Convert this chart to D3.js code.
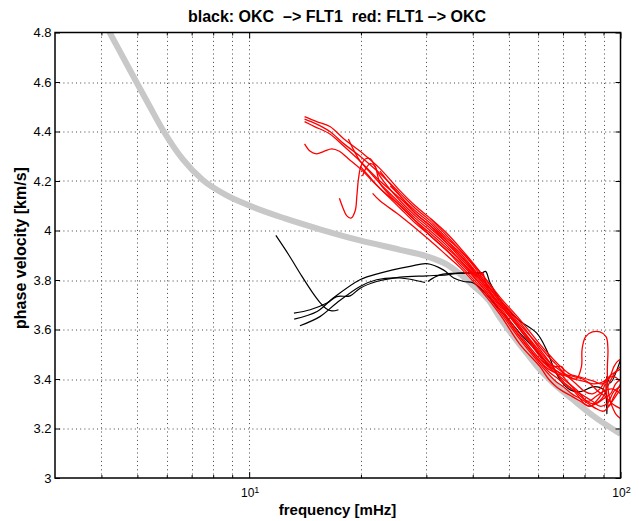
<!DOCTYPE html>
<html>
<head>
<meta charset="utf-8">
<script src="https://cdn.jsdelivr.net/npm/d3@7"></script>
<style>
  body { margin: 0; background: #fff; }
  text { font-family: "Liberation Sans", Arial, Helvetica, sans-serif; }
</style>
</head>
<body>
<svg id="chart" width="639" height="521"></svg>
<script>
// reference dispersion curve (grey), frequency [mHz] / phase velocity [km/s]
const refFreq = [4.0, 4.21, 4.57, 4.99, 5.40, 5.89, 6.63, 7.50, 8.65, 10.0, 12.48, 15.51, 19.88, 25.48, 30.07, 34.11, 36.97, 40.16,
                 44.27, 47.39, 51.38, 56.04, 60.74, 65.88, 74.58, 84.43, 100];
const refVel  = [4.862, 4.800, 4.701, 4.595, 4.501, 4.400, 4.287, 4.204, 4.144, 4.101, 4.049, 4.005, 3.960, 3.922, 3.896, 3.862, 3.825, 3.777,
                 3.716, 3.647, 3.574, 3.502, 3.437, 3.384, 3.316, 3.251, 3.178];

// black: OKC -> FLT1  ([freq, vel] pairs)
const blackTraces = [
  [[11.8,3.98],[12.8,3.90],[13.8,3.82],[14.8,3.75],[15.5,3.71],[16.1,3.685],[16.7,3.675],[17.4,3.68]],
  [[13.2,3.666],[14.6,3.68],[16.2,3.707],[17.2,3.733],[18.7,3.736],[19.9,3.767],[22.05,3.794],[25.5,3.812],[30.1,3.817],
   [34.05,3.821],[37,3.828],[40.2,3.828],[42,3.825],[43.3,3.835],[44.5,3.79],[47.4,3.72],[53,3.64],[59.5,3.585],[63.2,3.518],
   [65.9,3.45],[68.8,3.396],[73.2,3.356],[77.9,3.349],[84.7,3.369],[90.2,3.356],[91.7,3.33],[91.9,3.26],[91.9,3.41],[93.8,3.384],[100,3.477]],
  [[13.22,3.642],[15.24,3.673],[16.84,3.727],[19.88,3.801],[22.51,3.828],[27.12,3.855],[30.07,3.866],[33.33,3.841],[35.55,3.808],
   [37.8,3.794],[40.16,3.788],[43,3.75],[46,3.70],[50,3.64],[54,3.58],[58,3.53],[62,3.48],[65,3.44]],
  [[13.70,3.615],[15.51,3.652],[17.20,3.707],[19.88,3.774],[22.05,3.801],[25.48,3.808],[29.76,3.790]],
  [[30.3,3.794],[32.66,3.821],[38.5,3.828],[42.6,3.830]]
];

// red: FLT1 -> OKC
const redTraces = [
  [[14.1,4.46],[15.2,4.44],[16.5,4.42],[18,4.37],[19.9,4.32],[22.5,4.25],[25.5,4.16],[28,4.10],[30.7,4.05],[34,3.99],[37,3.93],
   [42,3.83],[47.4,3.72],[53.6,3.62],[60.7,3.53],[64,3.49],[67,3.46],[71,3.42],[75,3.40],[80,3.39],[85,3.38],[90,3.39],[95,3.42],[100,3.44]],
  [[14.1,4.45],[15.2,4.43],[16.5,4.40],[18,4.35],[19.9,4.30],[22.5,4.23],[25.5,4.15],[28,4.09],[30.7,4.04],[34,3.97],[37,3.92],
   [42,3.82],[47.4,3.71],[53.6,3.61],[60.7,3.51],[64,3.47],[68,3.44],[72,3.41],[76,3.38],[80,3.35],[84,3.34],[88,3.36],[92,3.40],[96,3.41],[100,3.39]],
  [[14.1,4.44],[15,4.42],[16.5,4.39],[18,4.34],[19.9,4.28],[22.5,4.20],[25.5,4.13],[28,4.07],[30.7,4.02],[34,3.95],[37,3.90],
   [42,3.80],[47.4,3.70],[53.6,3.60],[60.7,3.50],[65,3.45],[69,3.42],[73,3.38],[77,3.35],[81,3.31],[85,3.30],[89,3.32],[93,3.38],[97,3.43],[100,3.45]],
  [[14.1,4.35],[14.6,4.32],[15.2,4.31],[15.9,4.32],[16.7,4.33],[17.5,4.32],[18.5,4.29],[19.9,4.25],[22.5,4.17],[25.5,4.10],[28,4.04],
   [30.7,3.99],[34,3.93],[37,3.88],[42,3.78],[47.4,3.68],[53.6,3.57],[60.7,3.47],[64,3.43],[68,3.40],[72,3.37],[76,3.35],[80,3.33],
   [84,3.31],[88,3.29],[92,3.30],[96,3.35],[100,3.37]],
  [[18.5,4.37],[19.2,4.32],[19.9,4.28],[21,4.24],[22.5,4.19],[25.5,4.11],[28,4.05],[30.7,4.00],[34,3.94],[37,3.88],[42,3.79],
   [47.4,3.69],[53.6,3.58],[60.7,3.48],[65,3.44],[70,3.40],[74,3.37],[78,3.33],[82,3.31],[86,3.33],[90,3.35],[95,3.36],[100,3.34]],
  [[17.5,4.13],[17.9,4.09],[18.3,4.06],[18.8,4.05],[19.3,4.08],[19.5,4.14],[19.7,4.21],[20.0,4.26],[20.6,4.29],[21.2,4.29],
   [21.8,4.26],[22.5,4.22],[25.5,4.12],[28,4.06],[30.7,4.01],[34,3.95],[37,3.89],[42,3.80],[47.4,3.70],[53.6,3.60],[60.7,3.49],
   [63,3.46],[66,3.44],[70,3.42],[75,3.41],[79,3.40],[83,3.38],[87,3.35],[91,3.33],[95,3.30],[100,3.28]],
  [[19.9,4.26],[21,4.22],[22.5,4.17],[25.5,4.09],[28,4.03],[30.7,3.98],[34,3.92],[37,3.87],[42,3.78],[47.4,3.68],[53.6,3.57],
   [60.7,3.47],[64,3.44],[68,3.42],[72,3.41],[76,3.40],[78.5,3.45],[78.8,3.52],[80.5,3.57],[84,3.59],[88,3.59],[91.5,3.57],
   [92.5,3.52],[92.2,3.45],[92.3,3.38],[93.5,3.32],[95.5,3.28],[97.5,3.255],[100,3.24]],
  [[20.2,4.22],[20.6,4.25],[21.2,4.27],[21.8,4.26],[22.2,4.22],[22.5,4.19],[24,4.14],[25.5,4.10],[28,4.04],[30.7,3.98],[34,3.92],
   [37,3.86],[42,3.77],[47.4,3.67],[53.6,3.56],[60.7,3.46],[64,3.42],[67,3.39],[70,3.37],[74,3.34],[78,3.32],[82,3.30],[86,3.28],
   [90,3.27],[95,3.31],[100,3.36]],
  [[21.5,4.15],[22.5,4.12],[25.5,4.06],[28,4.01],[30.7,3.96],[34,3.90],[37,3.85],[42,3.76],[47.4,3.66],[53.6,3.54],[60.7,3.45],
   [64,3.40],[67,3.37],[70,3.35],[74,3.33],[78,3.31],[82,3.29],[86,3.30],[90,3.32],[94,3.34],[97,3.38],[100,3.40]],
  [[22.5,4.24],[25.5,4.14],[28,4.08],[30.7,4.03],[34,3.96],[37,3.90],[42,3.81],[47.4,3.71],[53.6,3.61],[60.7,3.50],[64,3.46],
   [67,3.45],[69.5,3.45],[70.5,3.43]],
  [[24,4.18],[25.5,4.14],[28,4.07],[30.7,4.02],[34,3.96],[37,3.91],[42,3.81],[47.4,3.72],[53.6,3.63],[60.7,3.52],[65,3.46],
   [70,3.39],[74,3.36],[77,3.33],[80,3.30],[83,3.29],[86,3.31],[89,3.34],[91,3.38],[92,3.33],[93,3.29],[96,3.33],[100,3.38]],
  [[30.7,4.05],[34,3.98],[37,3.92],[42,3.83],[47.4,3.73],[53.6,3.64],[60.7,3.54],[65,3.49],[69,3.45],[73,3.42],[77,3.41],
   [81,3.40],[85,3.39],[89,3.38],[93,3.40],[96,3.45],[98,3.47],[100,3.48]],
  [[38,3.86],[40,3.83],[41.5,3.81],[42.5,3.83],[43.5,3.78],[45,3.74],[47.4,3.70],[50,3.66],[53.6,3.60]]
];

// axis ticks
const yTicks = [3, 3.2, 3.4, 3.6, 3.8, 4, 4.2, 4.4, 4.6, 4.8];
const xMajor = [10, 100];
const xMinor = [4, 5, 6, 7, 8, 9, 20, 30, 40, 50, 60, 70, 80, 90];
const xMajorExp = ['1', '2'];

const margin = {left: 55, right: 18.5, top: 32.5, bottom: 43};
const svgWidth = 639, svgHeight = 521;
const width = svgWidth - margin.left - margin.right;
const height = svgHeight - margin.top - margin.bottom;

const svg = d3.select("#chart");
const chartGroup = svg.append("g").attr("transform", `translate(${margin.left}, ${margin.top})`);

const x = d3.scaleLog().domain([3, 100]).range([0, width]);
const y = d3.scaleLinear().domain([3, 4.8]).range([height, 0]);

// dotted grid
const grid = chartGroup.append("g")
  .attr("stroke", "#444").attr("stroke-width", 1).attr("stroke-dasharray", "1,3.2");
grid.selectAll(".hgrid").data(yTicks.slice(1, -1)).enter().append("line")
  .attr("x1", 0).attr("x2", width)
  .attr("y1", d => Math.round(y(d)) + 0.5).attr("y2", d => Math.round(y(d)) + 0.5);
grid.selectAll(".vgrid").data(xMinor.concat([10])).enter().append("line")
  .attr("y1", 0).attr("y2", height)
  .attr("x1", d => Math.round(x(d)) + 0.5).attr("x2", d => Math.round(x(d)) + 0.5);

// data, clipped to axes box
svg.append("defs").append("clipPath").attr("id", "plotclip")
  .append("rect").attr("width", width).attr("height", height);
const plot = chartGroup.append("g").attr("clip-path", "url(#plotclip)");

const line = d3.line().x(d => x(d[0])).y(d => y(d[1])).curve(d3.curveCatmullRom.alpha(0.5));
const smooth = d3.line().x(d => x(d[0])).y(d => y(d[1])).curve(d3.curveMonotoneX);

plot.append("path")
  .datum(refFreq.map((f, i) => [f, refVel[i]]))
  .attr("fill", "none").attr("stroke", "#c8c8c8").attr("stroke-width", 6)
  .attr("d", smooth);

plot.selectAll(".black").data(blackTraces).enter().append("path")
  .attr("fill", "none").attr("stroke", "#000").attr("stroke-width", 1.2)
  .attr("d", line);

plot.selectAll(".red").data(redTraces).enter().append("path")
  .attr("fill", "none").attr("stroke", "#ff0000").attr("stroke-width", 1.3)
  .attr("d", line);

// axes, ticks pointing inward
const styleAxis = g => {
  g.select(".domain").remove();
  g.selectAll("line").attr("stroke", "#000");
  g.selectAll("text").attr("font-size", 13).attr("fill", "#000");
};

chartGroup.append("g")
  .call(d3.axisLeft(y).tickValues(yTicks).tickSize(-5).tickPadding(3.5).tickFormat(d => String(+d.toFixed(1))))
  .call(styleAxis);
chartGroup.append("g").attr("transform", `translate(${width},0)`)
  .call(d3.axisRight(y).tickValues(yTicks).tickSize(-5).tickFormat(""))
  .call(styleAxis);

[[d3.axisBottom, height], [d3.axisTop, 0]].forEach(([ax, ty]) => {
  chartGroup.append("g").attr("transform", `translate(0,${ty})`)
    .call(ax(x).tickValues(xMajor).tickSize(-6).tickFormat(""))
    .call(styleAxis);
  chartGroup.append("g").attr("transform", `translate(0,${ty})`)
    .call(ax(x).tickValues(xMinor).tickSize(-3).tickFormat(""))
    .call(styleAxis);
});

// box
chartGroup.append("rect")
  .attr("width", width).attr("height", height)
  .attr("fill", "none").attr("stroke", "#000").attr("stroke-width", 1.5);

// 10^n labels
const xLab = chartGroup.selectAll(".xlab").data(xMajor).enter().append("text")
  .attr("x", d => x(d) + 1).attr("y", height + 19)
  .attr("text-anchor", "middle").attr("font-size", 12);
xLab.append("tspan").text("10");
xLab.append("tspan").attr("dy", -4.5).attr("font-size", 9).text((d, i) => xMajorExp[i]);

// titles
svg.append("text").attr("x", 337).attr("y", 22).attr("text-anchor", "middle")
  .attr("font-size", 16).attr("font-weight", "bold")
  .text("black: OKC  \u2013> FLT1  red: FLT1 \u2013> OKC")
  .style("white-space", "pre");
svg.append("text").attr("x", 337.5).attr("y", 515).attr("text-anchor", "middle")
  .attr("font-size", 15).attr("font-weight", "bold").text("frequency [mHz]");
svg.append("text").attr("transform", "translate(25.5,248) rotate(-90)").attr("text-anchor", "middle")
  .attr("font-size", 16).attr("font-weight", "bold").text("phase velocity [km/s]");
</script>
</body>
</html>
